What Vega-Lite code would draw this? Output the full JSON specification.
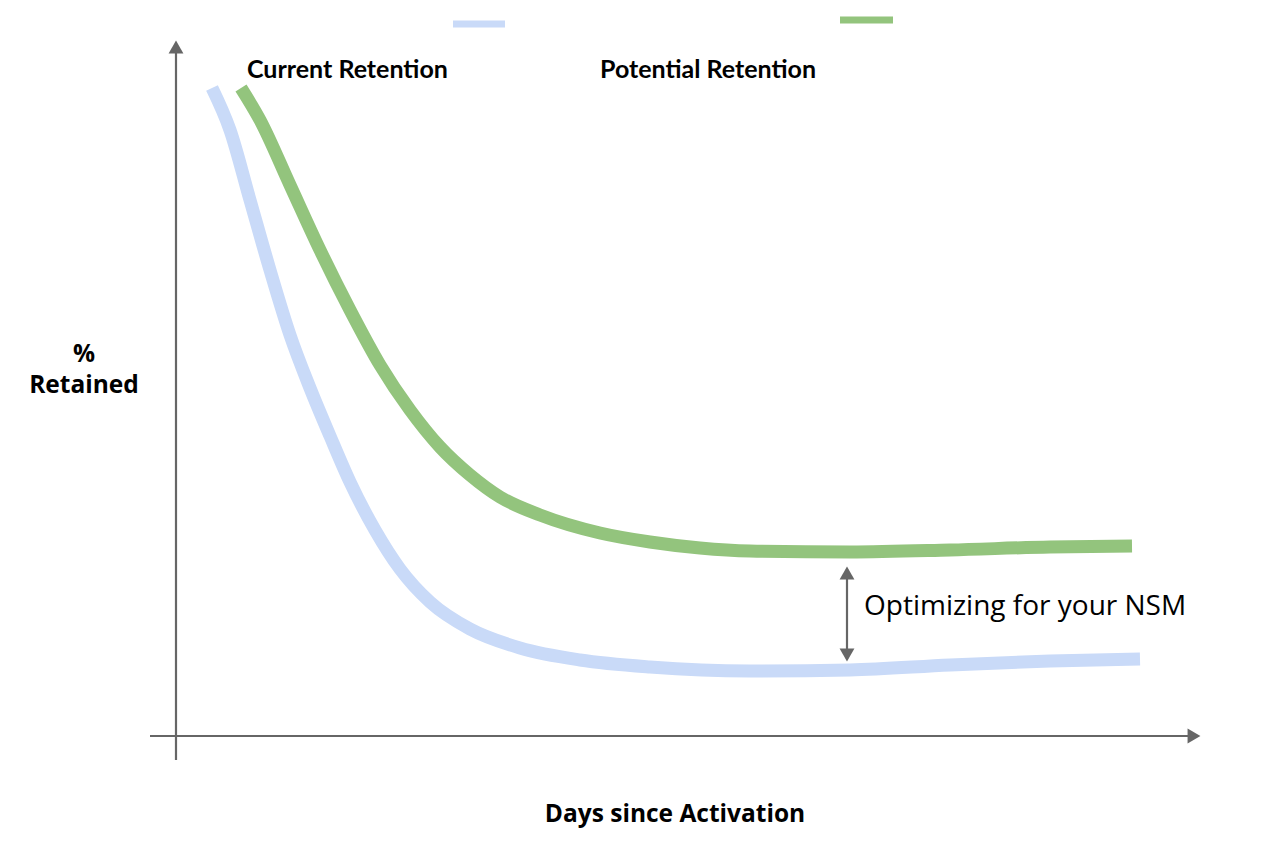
{
  "$schema": "https://vega.github.io/schema/vega-lite/v6.json",
  "width": 1276,
  "height": 860,
  "autosize": {"type": "fit", "contains": "padding"},
  "padding": 0,
  "background": "white",
  "config": {"view": {"stroke": null}},
  "datasets": {
    "curves": [
      {"series": "Current Retention", "day": 3.6, "pct": 64.7},
      {"series": "Current Retention", "day": 5.4, "pct": 60.5},
      {"series": "Current Retention", "day": 7.4, "pct": 53.5},
      {"series": "Current Retention", "day": 9.4, "pct": 46.5},
      {"series": "Current Retention", "day": 11.4, "pct": 40.0},
      {"series": "Current Retention", "day": 13.4, "pct": 34.7},
      {"series": "Current Retention", "day": 15.4, "pct": 29.9},
      {"series": "Current Retention", "day": 17.4, "pct": 25.3},
      {"series": "Current Retention", "day": 19.9, "pct": 20.5},
      {"series": "Current Retention", "day": 22.4, "pct": 16.6},
      {"series": "Current Retention", "day": 25.4, "pct": 13.3},
      {"series": "Current Retention", "day": 29.4, "pct": 10.6},
      {"series": "Current Retention", "day": 34.4, "pct": 8.7},
      {"series": "Current Retention", "day": 40.4, "pct": 7.5},
      {"series": "Current Retention", "day": 47.4, "pct": 6.8},
      {"series": "Current Retention", "day": 57.4, "pct": 6.4},
      {"series": "Current Retention", "day": 67.4, "pct": 6.5},
      {"series": "Current Retention", "day": 77.4, "pct": 7.0},
      {"series": "Current Retention", "day": 87.4, "pct": 7.4},
      {"series": "Current Retention", "day": 96.4, "pct": 7.6},
      {"series": "Potential Retention", "day": 6.5, "pct": 64.7},
      {"series": "Potential Retention", "day": 8.4, "pct": 61.5},
      {"series": "Potential Retention", "day": 11.4, "pct": 55.0},
      {"series": "Potential Retention", "day": 14.4, "pct": 48.5},
      {"series": "Potential Retention", "day": 17.4, "pct": 42.5},
      {"series": "Potential Retention", "day": 20.4, "pct": 37.0},
      {"series": "Potential Retention", "day": 23.4, "pct": 32.5},
      {"series": "Potential Retention", "day": 26.4, "pct": 28.8},
      {"series": "Potential Retention", "day": 29.4, "pct": 26.0},
      {"series": "Potential Retention", "day": 32.4, "pct": 23.8},
      {"series": "Potential Retention", "day": 36.4, "pct": 22.0},
      {"series": "Potential Retention", "day": 42.4, "pct": 20.2},
      {"series": "Potential Retention", "day": 47.4, "pct": 19.3},
      {"series": "Potential Retention", "day": 52.4, "pct": 18.7},
      {"series": "Potential Retention", "day": 57.4, "pct": 18.4},
      {"series": "Potential Retention", "day": 67.4, "pct": 18.3},
      {"series": "Potential Retention", "day": 77.4, "pct": 18.5},
      {"series": "Potential Retention", "day": 87.4, "pct": 18.8},
      {"series": "Potential Retention", "day": 95.6, "pct": 18.9}
    ],
    "axes": [
      {"name": "y", "x": 0, "x2": 0, "y": -2.5, "y2": 68.5},
      {"name": "x", "x": -2.6, "x2": 101.6, "y": -0.1, "y2": -0.1},
      {"name": "gap", "x": 67.1, "x2": 67.1, "y": 16.6, "y2": 7.6}
    ],
    "heads": [
      {"shape": "triangle-up", "x": 0, "y": 68.8},
      {"shape": "triangle-right", "x": 101.8, "y": -0.1},
      {"shape": "triangle-up", "x": 67.1, "y": 16.2},
      {"shape": "triangle-down", "x": 67.1, "y": 8.0}
    ],
    "swatches": [
      {"series": "Current Retention", "x": 27.7, "x2": 32.9, "y": 71.1},
      {"series": "Potential Retention", "x": 66.4, "x2": 71.7, "y": 71.5}
    ],
    "legendText": [
      {"text": "Current Retention", "x": 7.1, "y": 66.5},
      {"text": "Potential Retention", "x": 42.4, "y": 66.5}
    ],
    "titles": [
      {"text": "%", "x": -9.2, "y": 38.0},
      {"text": "Retained", "x": -9.2, "y": 34.9},
      {"text": "Days since Activation", "x": 49.9, "y": -8.0}
    ],
    "note": [
      {"text": "Optimizing for your NSM", "x": 68.8, "y": 12.8}
    ]
  },
  "encoding": {
    "x": {"type": "quantitative", "scale": {"domain": [-17.6, 110], "nice": false, "zero": false}, "axis": null},
    "y": {"type": "quantitative", "scale": {"domain": [-12.5, 73.5], "nice": false, "zero": false}, "axis": null}
  },
  "layer": [
    {
      "data": {"name": "axes"},
      "mark": {"type": "rule", "color": "#666666", "strokeWidth": 2.2},
      "encoding": {
        "x": {"field": "x", "type": "quantitative"},
        "x2": {"field": "x2"},
        "y": {"field": "y", "type": "quantitative"},
        "y2": {"field": "y2"}
      }
    },
    {
      "data": {"name": "heads"},
      "mark": {"type": "point", "filled": true, "color": "#666666", "opacity": 1, "size": 220},
      "encoding": {
        "x": {"field": "x", "type": "quantitative"},
        "y": {"field": "y", "type": "quantitative"},
        "shape": {"field": "shape", "type": "nominal", "scale": null, "legend": null}
      }
    },
    {
      "data": {"name": "curves"},
      "mark": {"type": "line", "interpolate": "monotone", "strokeWidth": 13, "strokeCap": "butt", "strokeJoin": "round"},
      "encoding": {
        "x": {"field": "day", "type": "quantitative"},
        "y": {"field": "pct", "type": "quantitative"},
        "color": {"field": "series", "type": "nominal", "scale": {"domain": ["Current Retention", "Potential Retention"], "range": ["#c9daf8", "#93c47d"]}, "legend": null}
      }
    },
    {
      "data": {"name": "swatches"},
      "mark": {"type": "rule", "strokeWidth": 7},
      "encoding": {
        "x": {"field": "x", "type": "quantitative"},
        "x2": {"field": "x2"},
        "y": {"field": "y", "type": "quantitative"},
        "color": {"field": "series", "type": "nominal", "legend": null}
      }
    },
    {
      "data": {"name": "legendText"},
      "mark": {"type": "text", "align": "left", "baseline": "middle", "font": "Lato", "fontWeight": "bold", "fontSize": 25, "color": "#000000"},
      "encoding": {
        "x": {"field": "x", "type": "quantitative"},
        "y": {"field": "y", "type": "quantitative"},
        "text": {"field": "text"}
      }
    },
    {
      "data": {"name": "titles"},
      "mark": {"type": "text", "align": "center", "baseline": "middle", "font": "Open Sans", "fontWeight": "bold", "fontSize": 24.5, "color": "#000000"},
      "encoding": {
        "x": {"field": "x", "type": "quantitative"},
        "y": {"field": "y", "type": "quantitative"},
        "text": {"field": "text"}
      }
    },
    {
      "data": {"name": "note"},
      "mark": {"type": "text", "align": "left", "baseline": "middle", "font": "Open Sans", "fontSize": 28, "color": "#000000"},
      "encoding": {
        "x": {"field": "x", "type": "quantitative"},
        "y": {"field": "y", "type": "quantitative"},
        "text": {"field": "text"}
      }
    }
  ]
}
